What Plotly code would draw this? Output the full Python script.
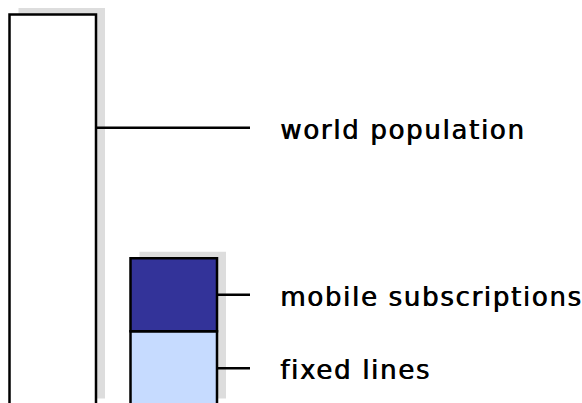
import plotly.graph_objects as go

# ---- data (billions) ----
bar_positions = [0, 1]
world_population = [6.3]
fixed_lines = [1.19]
mobile_subscriptions = [1.18]
label_texts = ["world population", "mobile subscriptions", "fixed lines"]

# ---- layout constants ----
W, H = 582, 403
PX_PER_X = 121.0
X_START = -52.75 / PX_PER_X
PX_PER_Y = 61.97
BASE_PX = 405.0
BAR_W = 86.5 / PX_PER_X
SH_DX = 9.0 / PX_PER_X
SH_DY = 6.5 / PX_PER_Y
LINE_END_X = X_START + 250 / PX_PER_X
LABEL_X = X_START + 278 / PX_PER_X
WORLD_ANCHOR_FRAC = 0.71

DARK = "#333399"
LIGHT = "#c6dbff"
SHADOW = "#dddddd"

totals = [world_population[0], fixed_lines[0] + mobile_subscriptions[0]]

fig = go.Figure()
# shadows
fig.add_trace(go.Bar(x=bar_positions, y=totals, base=[SH_DY, SH_DY],
                     offset=-BAR_W / 2 + SH_DX, width=BAR_W,
                     marker=dict(color=SHADOW, line=dict(width=0)),
                     hoverinfo="skip", showlegend=False))
# world population bar
fig.add_trace(go.Bar(x=[bar_positions[0]], y=world_population, width=BAR_W,
                     marker=dict(color="white", line=dict(color="black", width=2.5)),
                     name=label_texts[0], showlegend=False))
# fixed lines
fig.add_trace(go.Bar(x=[bar_positions[1]], y=fixed_lines, width=BAR_W,
                     marker=dict(color=LIGHT, line=dict(color="black", width=2.5)),
                     name=label_texts[2], showlegend=False))
# mobile subscriptions
fig.add_trace(go.Bar(x=[bar_positions[1]], y=mobile_subscriptions, base=fixed_lines,
                     width=BAR_W,
                     marker=dict(color=DARK, line=dict(color="black", width=2.5)),
                     name=label_texts[1], showlegend=False))

anchors = [
    (bar_positions[0], world_population[0] * WORLD_ANCHOR_FRAC, label_texts[0]),
    (bar_positions[1], fixed_lines[0] + mobile_subscriptions[0] / 2, label_texts[1]),
    (bar_positions[1], fixed_lines[0] / 2, label_texts[2]),
]
shapes = []
annotations = []
for xb, ya, txt in anchors:
    shapes.append(dict(type="line", xref="x", yref="y", x0=xb + BAR_W / 2, x1=LINE_END_X,
                       y0=ya, y1=ya, line=dict(color="black", width=2.5), layer="above"))
    annotations.append(dict(x=LABEL_X, y=ya, xref="x", yref="y", showarrow=False,
                            xanchor="left", yanchor="middle", yshift=-2,
                            text="<span style='letter-spacing:1.7px'>" + txt + "</span>",
                            font=dict(family="DejaVu Sans", size=26, color="black",
                                      shadow="0.7px 0px 0px black")))

fig.update_layout(
    width=W, height=H,
    margin=dict(l=0, r=0, t=0, b=0, pad=0),
    paper_bgcolor="white", plot_bgcolor="white",
    barmode="overlay",
    xaxis=dict(range=[X_START, X_START + W / PX_PER_X], visible=False, fixedrange=True),
    yaxis=dict(range=[(BASE_PX - H) / PX_PER_Y, BASE_PX / PX_PER_Y], visible=False,
               fixedrange=True),
    shapes=shapes, annotations=annotations,
    showlegend=False,
)
fig.write_html("out.html", config={"displayModeBar": False})
